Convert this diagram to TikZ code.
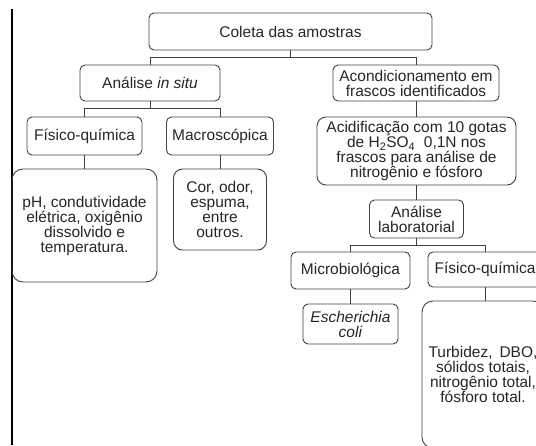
\documentclass[tikz,border=0pt]{standalone}
\usepackage{fontspec}
\setmainfont{Liberation Sans}
\begin{document}
\begin{tikzpicture}[x=1pt,y=-1pt,
  box/.style={draw=black!75, line width=0.9pt, rounded corners=5pt, align=center, inner sep=0pt,
    font=\fontsize{15.5}{15}\selectfont, text=black!85},
  bigbox/.style={box, rounded corners=9pt},
  conn/.style={draw=black!75, line width=0.9pt}]
\useasboundingbox (0,0) rectangle (536,445);
\clip (0,0) rectangle (536,445);
\coordinate (lt) at (12,9);
\coordinate (lb) at (12,445);
\draw[line width=1.2pt, black] (lt) -- (lb);

\node[box, minimum width=283pt, minimum height=37pt] (coleta) at (290.5,31.5) {Coleta das amostras};
\node[box, minimum width=140pt, minimum height=36pt] (insitu) at (150,83) {Análise \textit{in situ}};
\node[box, minimum width=166pt, minimum height=36pt] (acond) at (416,83) {Acondicionamento em\\frascos identificados};
\node[box, minimum width=115pt, minimum height=38pt] (fq1) at (84.5,136) {Físico-química};
\node[box, minimum width=107pt, minimum height=38pt] (macro) at (220,136) {Macroscópica};
\node[bigbox, minimum width=199pt, minimum height=68pt] (acid) at (416.5,151)
  {Acidificação com 10 gotas\\de H\textsubscript{2}SO\textsubscript{4}\ \ 0,1N nos\\frascos para análise de\\nitrogênio e fósforo};
\node[bigbox, rounded corners=11pt, minimum width=145pt, minimum height=113pt] (ph) at (84.5,225.5)
  {pH, condutividade\\elétrica, oxigênio\\dissolvido e\\temperatura.};
\node[bigbox, minimum width=93pt, minimum height=81pt] (cor) at (220,209.5)
  {Cor, odor,\\espuma,\\entre\\outros.};
\node[box, minimum width=94pt, minimum height=38pt] (lab) at (416.5,219) {Análise\\laboratorial};
\node[box, minimum width=119pt, minimum height=37pt] (micro) at (350.5,270.5) {Microbiológica};
\node[box, minimum width=114pt, minimum height=35pt] (fq2) at (485,269.5) {Físico-química};
\node[box, minimum width=95pt, minimum height=40pt] (ecoli) at (350.5,324) {\textit{Escherichia}\\\textit{coli}};
\node[bigbox, rounded corners=11pt, minimum width=122pt, minimum height=147pt] (turb) at (483,374.5)
  {Turbidez,\hspace{0.45em}DBO,\\sólidos totais,\\nitrogênio total,\\fósforo total.};

% connectors
\draw[conn] (coleta.south) -- ++(0,7) coordinate (j1);
\draw[conn] (j1) -| (insitu.north);
\draw[conn] (j1) -| (acond.north);
\draw[conn] (insitu.south) -- ++(0,7) coordinate (j2);
\draw[conn] (j2) -| (fq1.north);
\draw[conn] (j2) -| (macro.north);
\draw[conn] (acond.south) -- (acond.south |- acid.north);
\draw[conn] (fq1.south) -- (ph.north);
\draw[conn] (macro.south) -- (cor.north);
\draw[conn] (acid.south) -- (lab.north);
\draw[conn] (lab.south) -- ++(0,7) coordinate (j3);
\draw[conn] (j3) -| (micro.north);
\draw[conn] (j3) -| (fq2.north);
\draw[conn] (micro.south) -- (ecoli.north);
\draw[conn] (fq2.south) -- (fq2.south |- turb.north);
\end{tikzpicture}
\end{document}
